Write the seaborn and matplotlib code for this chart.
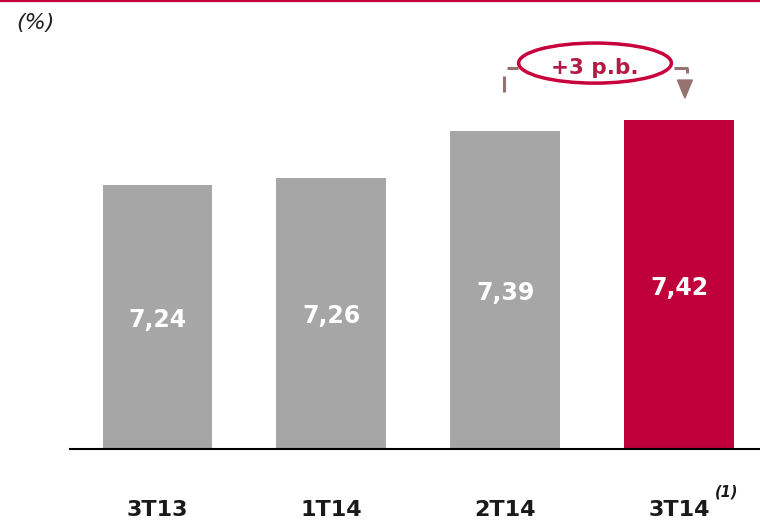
import matplotlib
matplotlib.use("Agg")
import matplotlib.pyplot as plt
from matplotlib.patches import Ellipse, Polygon
from matplotlib.lines import Line2D
import seaborn as sns

# Quarterly values (%)
quarters = ["3T13", "1T14", "2T14", "3T14"]
values = [7.24, 7.26, 7.39, 7.42]
bar_colors = ["#a6a6a6", "#a6a6a6", "#a6a6a6", "#c0003a"]
change_label = "+3 p.b."
unit_label = "(%)"
footnote = "(1)"

sns.set_theme(style="white")
plt.rcParams["font.family"] = ["DejaVu Sans"]

W, H = 760, 521
fig = plt.figure(figsize=(W / 100, H / 100), dpi=100)
ax = fig.add_axes([70 / W, 72 / H, 690 / W, 449 / H])

sns.barplot(x=quarters, y=values, hue=quarters, palette=bar_colors,
            width=0.632, legend=False, saturation=1, linewidth=0, ax=ax)

ymin = 6.51
ax.set_ylim(ymin, ymin + 449 / 361)
ax.set_xlim(-0.503, 3.466)

for s in ["top", "left", "right"]:
    ax.spines[s].set_visible(False)
ax.spines["bottom"].set_color("black")
ax.spines["bottom"].set_linewidth(1.5)
ax.set_yticks([])
ax.set_ylabel("")
ax.set_xlabel("")
ax.set_xticks(range(len(quarters)))
ax.set_xticklabels(quarters, fontsize=16, fontweight="bold", color="#1a1a1a")
ax.tick_params(axis="x", length=0, pad=37)

# value labels inside the bars
for i, v in enumerate(values):
    ax.annotate(f"{v:.2f}".replace(".", ","), xy=(i, (ymin + v) / 2),
                xytext=(0, -2), textcoords="offset points",
                ha="center", va="center", color="white",
                fontsize=17, fontweight="bold")

# footnote marker next to last category
ax.annotate(footnote, xy=(3, ymin), xytext=(34, -31), textcoords="offset points",
            ha="center", va="center", fontsize=10.5, fontweight="bold",
            fontstyle="italic", color="#1a1a1a", annotation_clip=False)

# change bracket between the last two quarters
bracket = "#967370"
red = "#c8003c"
y_top = 7.566
ax.add_line(Line2D([2.009, 2.072], [y_top, y_top], color=bracket, lw=2.2,
                   solid_capstyle="butt", clip_on=False))
ax.add_line(Line2D([1.991, 1.991], [7.543, 7.499], color=bracket, lw=2.2,
                   solid_capstyle="butt", clip_on=False))
ax.add_line(Line2D([2.974, 3.049], [y_top, y_top], color=bracket, lw=2.2,
                   solid_capstyle="butt", clip_on=False))
ax.add_line(Line2D([3.046, 3.046], [y_top, 7.552], color=bracket, lw=2.2,
                   solid_capstyle="butt", clip_on=False))
ax.add_patch(Polygon([[3.034 - 0.043, 7.532], [3.034 + 0.043, 7.532], [3.034, 7.482]],
                     closed=True, color=bracket, clip_on=False))
ax.add_patch(Ellipse((2.517, 7.579), 0.879, 0.111, fill=False, edgecolor=red,
                     lw=2.5, clip_on=False))
ax.text(2.517, 7.566, change_label, ha="center", va="center", fontsize=15.5,
        fontweight="bold", color="#b31b45")

# unit label and top rule
fig.text(35 / W, 1 - 23 / H, unit_label, ha="center", va="center", fontsize=16,
         fontstyle="italic", color="#222222")
fig.add_artist(Line2D([0, 1], [1 - 1 / H, 1 - 1 / H], color=red, lw=1.6,
                      transform=fig.transFigure))

fig.savefig("out.png", dpi=100)
